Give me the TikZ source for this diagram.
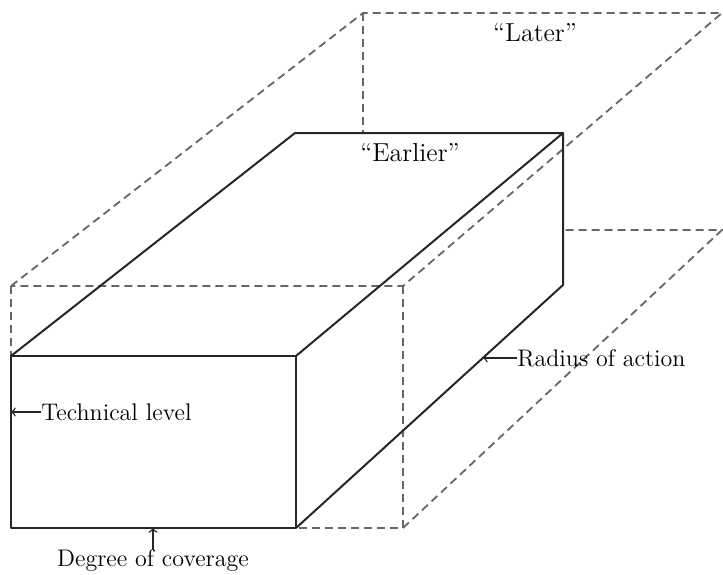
\documentclass[tikz,border=0pt]{standalone}
\usetikzlibrary{calc}
\begin{document}
\begin{tikzpicture}[x=0.5pt,y=-0.5pt,
  solidedge/.style={line width=1pt, black!85, line join=round},
  hidden/.style={line width=0.9pt, black!60, dash pattern=on 4pt off 2.5pt},
  lbl/.style={font=\fontsize{12}{14}\selectfont, inner sep=0pt, text=black},
  qlbl/.style={font=\fontsize{13}{15}\selectfont, inner sep=0pt, text=black},
  pointer/.style={->, line width=0.7pt, black!85}]
\useasboundingbox (0,0) rectangle (723,574);
% solid box ("Earlier")
\coordinate (FBL) at (11,528);
\coordinate (FBR) at (296,528);
\coordinate (FTL) at (11,356);
\coordinate (FTR) at (296,356);
\coordinate (BTL) at (295,133);
\coordinate (BTR) at (563,133);
\coordinate (BBR) at (563,285);
% dashed box ("Later")
\coordinate (LFTL) at (11,286);
\coordinate (LFTR) at (403,286);
\coordinate (LFBR) at (403,528);
\coordinate (LBTL) at (363,13);
\coordinate (LBTR) at (722,13);
\coordinate (LBBR) at (722,230);
\coordinate (LBmid) at (563,230);
\coordinate (LTmid) at (363,133);
% dashed edges
\draw[hidden] (LFTL) -- (LBTL) -- (LBTR) -- (LFTR) -- cycle;
\draw[hidden] (LFTL) -- (FTL);
\draw[hidden] (LFTR) -- (LFBR) -- (FBR);
\draw[hidden] (LFBR) -- (LBBR) -- (LBmid);
\draw[hidden] (LBTL) -- (LTmid);
% solid edges
\draw[solidedge] (FBL) -- (FBR) -- (FTR) -- (FTL) -- cycle;
\draw[solidedge] (FTL) -- (BTL) -- (BTR) -- (FTR);
\draw[solidedge] (BTR) -- (BBR) -- (FBR);
% labels
\node[qlbl] (later) at (535,33) {``Later''};
\node[qlbl] (earlier) at (410,153) {``Earlier''};
\node[lbl, anchor=west] (tech) at (41,412) {Technical level};
\draw[pointer] (tech.west) -- (tech.west -| FBL);
\node[lbl] (deg) at (153,561) {Degree of coverage};
\draw[pointer] (deg.north) -- (deg.north |- FBL);
\coordinate (radpt) at ($(FBR)!0.70!(BBR)$);
\node[lbl, anchor=west] (rad) at ([xshift=17pt]radpt) {Radius of action};
\draw[pointer] (rad.west) -- (radpt);
\end{tikzpicture}
\end{document}
